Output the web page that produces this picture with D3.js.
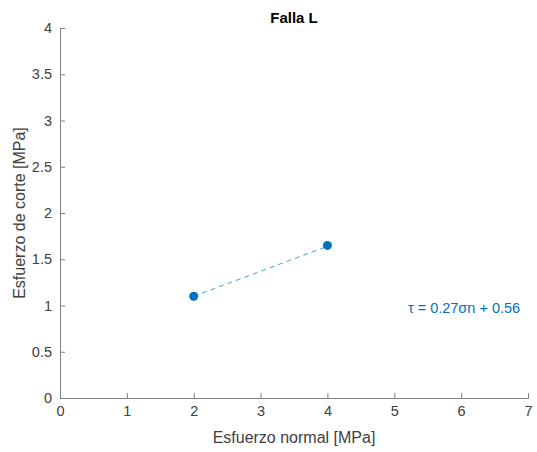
<!DOCTYPE html>
<html><head><meta charset="utf-8">
<script src="https://cdn.jsdelivr.net/npm/d3@7"></script>
<style>body{margin:0;background:#fff}svg{display:block}text{font-family:"Liberation Sans",Arial,sans-serif}</style>
</head><body>
<script>
const sigmaN = [2, 4];
const tau = [1.10, 1.65];
const fitSigma = [2, 4];
const fitTau = [1.10, 1.64];
const xTicks = [0,1,2,3,4,5,6,7];
const yTicks = [0,0.5,1,1.5,2,2.5,3,3.5,4];
const titleText = "Falla L";
const xLabel = "Esfuerzo normal [MPa]";
const yLabel = "Esfuerzo de corte [MPa]";
const eqText = "τ = 0.27σn + 0.56";

const W=537,H=452;
const svg=d3.select("body").append("svg").attr("width",W).attr("height",H);
const x=d3.scaleLinear().domain([0,7]).range([60,528]);
const y=d3.scaleLinear().domain([0,4]).range([398,28]);
const axisColor="#404040", lineColor="#808080";

const gx=svg.append("g").attr("transform","translate(0,398)")
 .call(d3.axisBottom(x).tickValues(xTicks).tickSize(-5).tickPadding(8).tickFormat(d3.format("")));
const gy=svg.append("g").attr("transform","translate(60,0)")
 .call(d3.axisLeft(y).tickValues(yTicks).tickSize(-5).tickPadding(8).tickFormat(d3.format("")));
[gx,gy].forEach(g=>{
  g.select(".domain").attr("stroke",lineColor).attr("stroke-width",1);
  g.selectAll(".tick line").attr("stroke",lineColor);
  g.selectAll(".tick text").attr("fill",axisColor).style("font-size","14.5px").style("font-family","'Liberation Sans',Arial,sans-serif");
});

svg.append("text").attr("x",294).attr("y",23).attr("text-anchor","middle")
 .style("font-size","15px").style("font-weight","bold").attr("fill","#000").text(titleText);
svg.append("text").attr("x",294).attr("y",443).attr("text-anchor","middle")
 .style("font-size","16px").attr("fill",axisColor).text(xLabel);
svg.append("text").attr("transform","translate(25,213) rotate(-90)").attr("text-anchor","middle")
 .style("font-size","16px").attr("fill",axisColor).text(yLabel);

const line=d3.line().x((d,i)=>x(fitSigma[i])).y(d=>y(d));
svg.append("path").attr("d",line(fitTau)).attr("fill","none")
 .attr("stroke","#0072BD").attr("stroke-opacity",0.7).attr("stroke-width",1).attr("stroke-dasharray","5,4");

svg.selectAll("circle.pt").data(tau).enter().append("circle").attr("class","pt")
 .attr("cx",(d,i)=>x(sigmaN[i])).attr("cy",d=>y(d)).attr("r",4.5).attr("fill","#0072BD");

svg.append("text").attr("x",464).attr("y",313).attr("text-anchor","middle")
 .style("font-size","14.5px").attr("fill","#0072BD").text(eqText);
</script>
</body></html>
